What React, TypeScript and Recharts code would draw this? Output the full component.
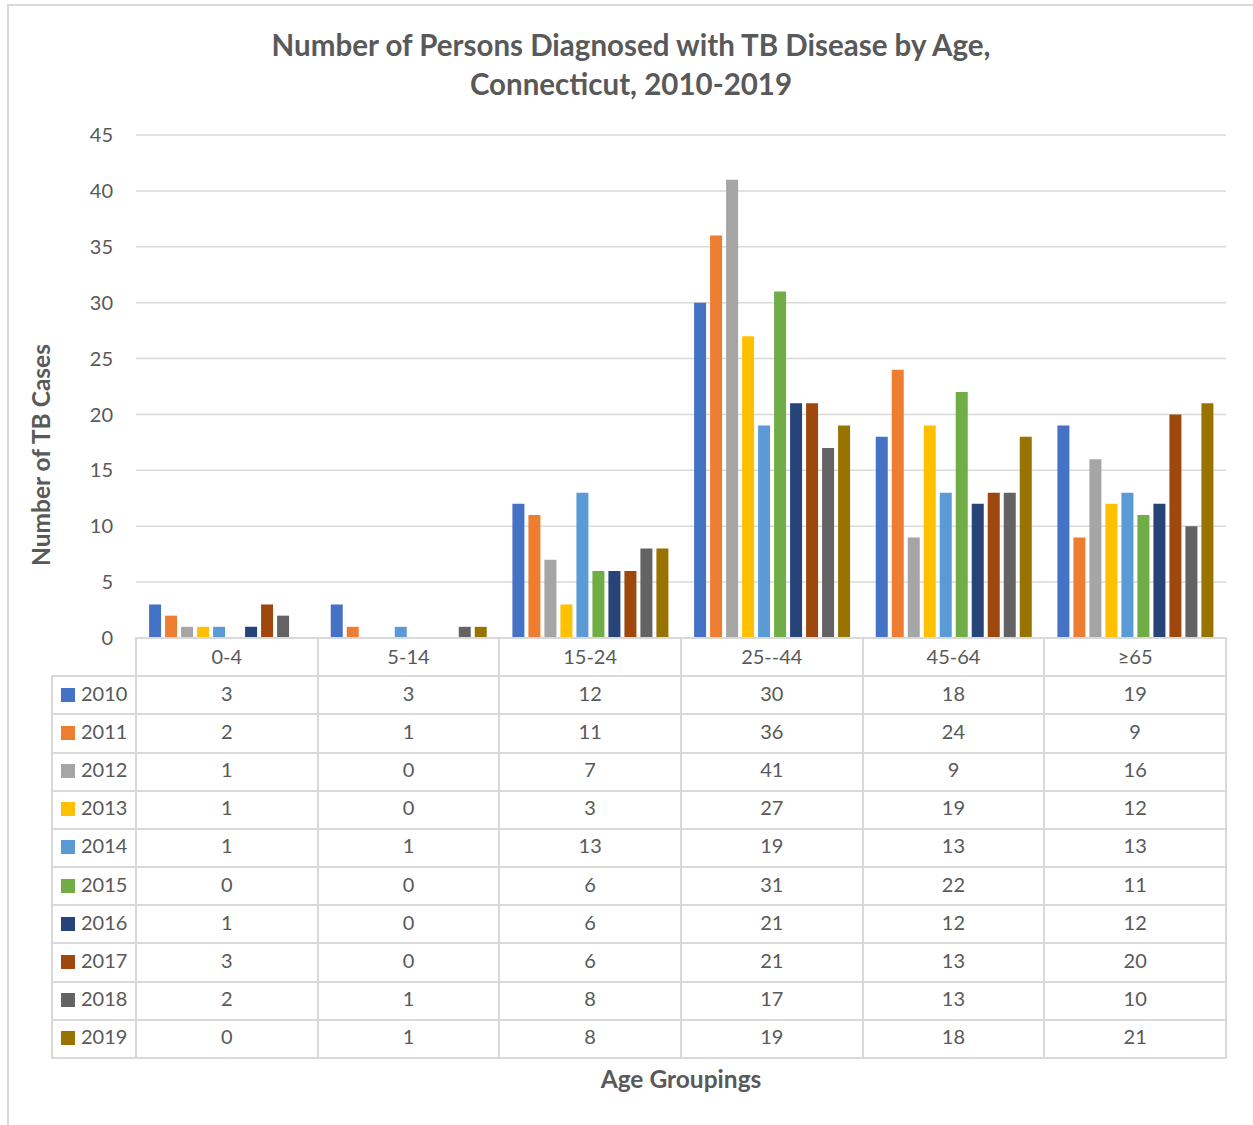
import React from 'react';
import { BarChart, Bar, XAxis, YAxis, CartesianGrid } from 'recharts';

const ageGroups = ['0-4', '5-14', '15-24', '25--44', '45-64', '≥65'];
const years = ['2010', '2011', '2012', '2013', '2014', '2015', '2016', '2017', '2018', '2019'];

const cases2010 = [3, 3, 12, 30, 18, 19];
const cases2011 = [2, 1, 11, 36, 24, 9];
const cases2012 = [1, 0, 7, 41, 9, 16];
const cases2013 = [1, 0, 3, 27, 19, 12];
const cases2014 = [1, 1, 13, 19, 13, 13];
const cases2015 = [0, 0, 6, 31, 22, 11];
const cases2016 = [1, 0, 6, 21, 12, 12];
const cases2017 = [3, 0, 6, 21, 13, 20];
const cases2018 = [2, 1, 8, 17, 13, 10];
const cases2019 = [0, 1, 8, 19, 18, 21];

const yTicks = [0, 5, 10, 15, 20, 25, 30, 35, 40, 45];

const colors = ['#4472C4', '#ED7D31', '#A5A5A5', '#FFC000', '#5B9BD5', '#70AD47', '#264478', '#9E480E', '#636363', '#997300'];

const series = [cases2010, cases2011, cases2012, cases2013, cases2014, cases2015, cases2016, cases2017, cases2018, cases2019];

const data = ageGroups.map((age, i) => {
  const row: Record<string, string | number> = { age };
  years.forEach((y, j) => { row[y] = series[j][i]; });
  return row;
});

const FONT = 'Lato, "Open Sans", sans-serif';
const TEXT = '#595959';
const LINE = '#D9D9D9';

const PLOT_LEFT = 136;
const PLOT_RIGHT = 1226;
const PLOT_TOP = 135;
const PLOT_BOTTOM = 638;
const LEGEND_LEFT = 52;
const ROW_H = (1058 - PLOT_BOTTOM) / 11;
const COL_W = (PLOT_RIGHT - PLOT_LEFT) / ageGroups.length;

const cell: React.CSSProperties = {
  border: `2px solid ${LINE}`,
  padding: 0,
  paddingBottom: 5,
  height: ROW_H - 2,
  boxSizing: 'border-box',
  textAlign: 'center',
  verticalAlign: 'middle',
  color: TEXT,
  fontSize: 20,
  lineHeight: '20px',
};

const App: React.FC = () => {
  return (
    <div style={{ position: 'absolute', left: 0, top: 0, width: 1253, height: 1125, background: '#fff', overflow: 'hidden', fontFamily: FONT }}>
      <div style={{ position: 'absolute', left: 7, top: 4, width: 1300, height: 1200, borderLeft: `2px solid ${LINE}`, borderTop: `2px solid ${LINE}` }} />
      <div style={{ position: 'absolute', left: 0, top: 25, width: 1262, textAlign: 'center', color: TEXT, fontWeight: 700, fontSize: 29.5, lineHeight: '39px' }}>
        Number of Persons Diagnosed with TB Disease by Age,<br />Connecticut, 2010-2019
      </div>
      <div style={{ position: 'absolute', left: 40, top: 455, width: 0, height: 0 }}>
        <div style={{ position: 'absolute', transform: 'translate(-50%, -50%) rotate(-90deg)', whiteSpace: 'nowrap', color: TEXT, fontWeight: 700, fontSize: 24.5 }}>
          Number of TB Cases
        </div>
      </div>
      <div style={{ position: 'absolute', left: 0, top: 0 }}>
        <BarChart
          width={1253}
          height={660}
          data={data}
          margin={{ top: PLOT_TOP, right: 1253 - PLOT_RIGHT, left: PLOT_LEFT - 100, bottom: 660 - PLOT_BOTTOM }}
          barCategoryGap="7.2%"
          barGap={4}
        >
          <CartesianGrid vertical={false} stroke={LINE} strokeWidth={1.5} />
          <XAxis dataKey="age" hide />
          <YAxis
            width={100}
            domain={[0, 45]}
            ticks={yTicks}
            axisLine={false}
            tickLine={false}
            tickMargin={17}
            tick={{ fill: TEXT, fontSize: 20, fontFamily: FONT }}
          />
          {years.map((y, j) => (
            <Bar key={y} dataKey={y} fill={colors[j]} isAnimationActive={false} />
          ))}
        </BarChart>
      </div>
      <table
        style={{
          position: 'absolute',
          left: LEGEND_LEFT - 1,
          top: PLOT_BOTTOM - 1,
          width: PLOT_RIGHT - LEGEND_LEFT + 2,
          borderCollapse: 'collapse',
          tableLayout: 'fixed',
          fontFamily: FONT,
        }}
      >
        <colgroup>
          <col style={{ width: PLOT_LEFT - LEGEND_LEFT }} />
          {ageGroups.map((a) => <col key={a} style={{ width: COL_W }} />)}
        </colgroup>
        <tbody>
          <tr style={{ height: ROW_H }}>
            <td style={{ ...cell, paddingBottom: 2, borderTop: 'none', borderLeft: 'none' }} />
            {ageGroups.map((a) => <td key={a} style={{ ...cell, paddingBottom: 2 }}>{a}</td>)}
          </tr>
          {years.map((y, j) => (
            <tr key={y} style={{ height: ROW_H }}>
              <td style={{ ...cell, textAlign: 'left' }}>
                <span style={{ display: 'inline-block', width: 14, height: 14, background: colors[j], marginLeft: 8, marginRight: 6, verticalAlign: '-1px' }} />
                {y}
              </td>
              {series[j].map((v, i) => <td key={i} style={cell}>{v}</td>)}
            </tr>
          ))}
        </tbody>
      </table>
      <div style={{ position: 'absolute', left: PLOT_LEFT, width: PLOT_RIGHT - PLOT_LEFT, top: 1064, textAlign: 'center', color: TEXT, fontWeight: 700, fontSize: 24.5 }}>
        Age Groupings
      </div>
    </div>
  );
};

export default App;
